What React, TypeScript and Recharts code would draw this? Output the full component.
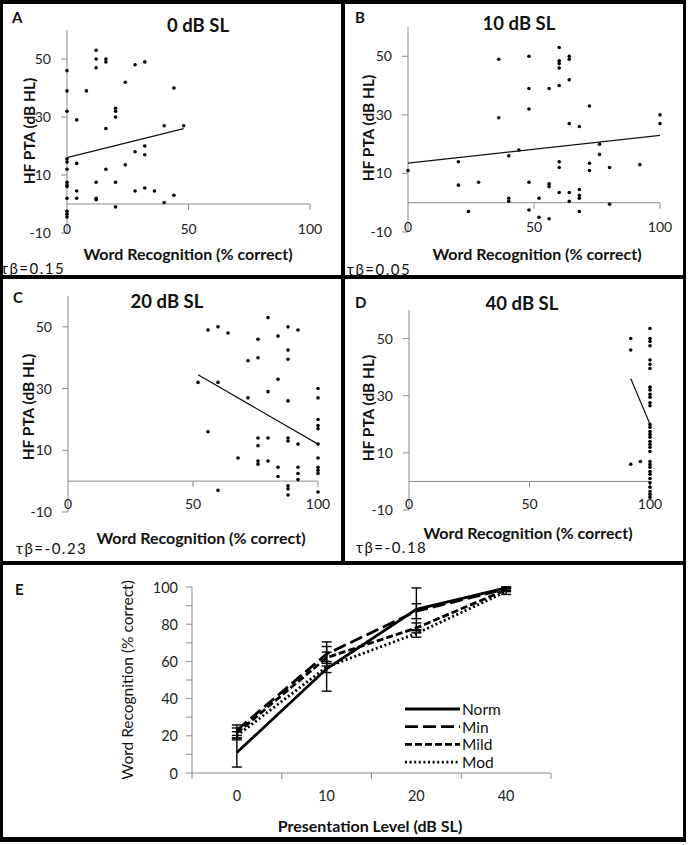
import { ScatterChart, Scatter, XAxis, YAxis, ReferenceLine, LineChart, Line, ErrorBar, Legend } from "recharts"

const FONT = "Lato, 'Open Sans', sans-serif"
const AXIS_GRAY = "#8a8a8a"

// scatter panels: [word recognition (% correct), HF PTA (dB HL)]
const pointsA: [number, number][] = [
  [12, 53], [12, 50], [12, 47], [16, 50], [16, 49], [28, 48], [32, 49], [0, 46], [0, 39], [8, 39],
  [24, 42], [44, 40], [20, 33], [20, 32], [20, 30], [0, 32], [4, 29], [16, 26], [40, 27], [48, 27],
  [32, 20], [32, 17], [28, 18], [0, 15.5], [0, 14.5], [4, 14], [24, 13.5], [0, 12], [16, 12], [0, 7.5],
  [0, 6.5], [0, 6], [12, 7.5], [20, 7.5], [4, 4.5], [4, 2], [0, 2], [28, 4.5], [32, 5.5], [36, 4.5],
  [44, 3], [12, 2], [12, 1.5], [40, 0.5], [20, -1], [0, -2.5], [0, -3.5], [0, -4.5],
]
const pointsB: [number, number][] = [
  [0, 11], [20, 14], [20, 6], [28, 7], [24, -3], [36, 49], [36, 29], [40, 16], [44, 18], [40, 1.5],
  [40, 0.5], [48, 50], [48, 39], [48, 32], [48, 7], [48, -2.5], [52, 1.5], [52, -5], [56, 39], [56, 6.5],
  [56, 5.5], [56, -5.5], [60, 53], [60, 48.5], [60, 47.5], [60, 46], [60, 40], [60, 14], [60, 12], [60, 3.5],
  [64, 50], [64, 49], [64, 42], [64, 27], [64, 3.5], [64, 0.5], [68, 26], [68, 4.5], [68, 2.5], [68, 1.5],
  [68, -3], [72, 33], [72, 13.5], [72, 11], [76, 20], [76, 16.5], [80, 12], [80, -0.5], [92, 13], [100, 30],
  [100, 27],
]
const pointsC: [number, number][] = [
  [52, 32], [56, 49], [56, 16], [60, 50], [60, 32], [60, -3], [64, 48], [68, 7.5], [72, 39], [72, 27],
  [76, 46], [76, 40], [76, 14], [76, 11.5], [76, 6.5], [76, 5.5], [80, 53], [80, 29], [80, 14], [80, 6.5],
  [84, 47], [84, 33], [84, 4.5], [84, 1.5], [88, 50], [88, 42.5], [88, 39.5], [88, 26], [88, 14], [88, 13],
  [88, -1.5], [88, -2.5], [88, -4.5], [92, 49], [92, 12], [92, 4.5], [92, 2.5], [92, 0.5], [100, 30], [100, 27],
  [100, 20], [100, 18], [100, 17], [100, 12], [100, 7.5], [100, 4.5], [100, 3.5], [100, 2.5], [100, -3.5],
]
const pointsD: [number, number][] = [
  [92, 50], [92, 46], [92, 6], [96, 7], [100, 53.5], [100, 50], [100, 49], [100, 47.5], [100, 42.5], [100, 41],
  [100, 39.5], [100, 33], [100, 32], [100, 30.5], [100, 29.5], [100, 27.5], [100, 26.5], [100, 20], [100, 19], [100, 17.5],
  [100, 16.5], [100, 15.5], [100, 14], [100, 13], [100, 12], [100, 10.5], [100, 7], [100, 6], [100, 5], [100, 3.5],
  [100, 2.5], [100, 1], [100, -0.5], [100, -2], [100, -3.5], [100, -4.5], [100, -5.5],
]

// linear trend lines (end points)
const trendA: [number, number][] = [[0, 16], [48, 26]]
const trendB: [number, number][] = [[0, 13.5], [100, 23]]
const trendC: [number, number][] = [[52, 34.5], [100, 12]]
const trendD: [number, number][] = [[92, 36], [100, 20]]

const wrTicks = [0, 50, 100]
const ptaTicks = [-10, 10, 30, 50]

// panel E: mean word recognition by presentation level
const levels = ["0", "10", "20", "40"]
const norm = [11, 56, 88, 99.5]
const normSd = [7.8, 12, 11.5, 0.5]
const min = [23, 64, 87, 99]
const minSd = [2.8, 6.5, 4, 1]
const mild = [21.5, 62, 78, 98.5]
const mildSd = [2.7, 3, 2.7, 1]
const mod = [20, 57, 75, 97.5]
const modSd = [2.2, 3, 2, 1.5]
const pctTicks = [0, 10, 20, 30, 40, 50, 60, 70, 80, 90, 100]

const series = [
  { key: "norm", name: "Norm", dash: undefined as string | undefined },
  { key: "min", name: "Min", dash: "13 5" },
  { key: "mild", name: "Mild", dash: "7 3" },
  { key: "mod", name: "Mod", dash: "2 2.6" },
]

const levelData = levels.map((level, i) => ({
  level,
  norm: norm[i], normSd: normSd[i],
  min: min[i], minSd: minSd[i],
  mild: mild[i], mildSd: mildSd[i],
  mod: mod[i], modSd: modSd[i],
}))

const toXY = (pts: [number, number][]) => pts.map(([x, y]) => ({ x, y }))

type Box = { l: number; t: number; r: number; b: number }

// space handed to the axes themselves; the rest of the gap is chart margin
const Y_AXIS_W = 50
const X_AXIS_H = 20

const panels = [
  {
    letter: "A", title: "0 dB SL", tau: "τβ=0.15", points: pointsA, trend: trendA,
    box: { l: 3, t: 4, r: 341, b: 275 }, plot: { l: 67, t: 30, r: 310, b: 233 }, labelY: 228,
    letterPos: [12, 23], titlePos: [198, 32], yTitle: [29, 131], xTitle: [188, 260], tauPos: [1, 274],
  },
  {
    letter: "B", title: "10 dB SL", tau: "τβ=0.05", points: pointsB, trend: trendB,
    box: { l: 345, t: 4, r: 683, b: 275 }, plot: { l: 408, t: 27, r: 660, b: 232 }, labelY: 226,
    letterPos: [355, 23], titlePos: [519, 30], yTitle: [368, 128], xTitle: [537, 260], tauPos: [347, 275],
  },
  {
    letter: "C", title: "20 dB SL", tau: "τβ=-0.23", points: pointsC, trend: trendC,
    box: { l: 3, t: 279, r: 341, b: 561 }, plot: { l: 68, t: 296, r: 318, b: 512 }, labelY: 503,
    letterPos: [13, 303], titlePos: [167, 308], yTitle: [28, 407], xTitle: [201, 544], tauPos: [16, 554],
  },
  {
    letter: "D", title: "40 dB SL", tau: "τβ=-0.18", points: pointsD, trend: trendD,
    box: { l: 345, t: 279, r: 683, b: 561 }, plot: { l: 409, t: 310, r: 650, b: 510 }, labelY: 503,
    letterPos: [355, 308], titlePos: [522, 310], yTitle: [368, 408], xTitle: [528, 539], tauPos: [356, 553],
  },
]

const boxE: Box = { l: 3, t: 565, r: 683, b: 837 }
const plotE: Box = { l: 192, t: 587, r: 551, b: 773 }
const halfBand = (plotE.r - plotE.l) / (levels.length * 2)

const margins = (box: Box, plot: Box) => ({
  top: plot.t - box.t,
  left: plot.l - box.l - Y_AXIS_W,
  right: box.r - plot.r,
  bottom: box.b - plot.b - X_AXIS_H,
})

const Dot = (props: any) => <circle cx={props.cx} cy={props.cy} r={1.8} fill="#000" />
const NoDot = () => <g />

function WrTick({ x, payload, labelY }: any) {
  return (
    <text x={x} y={labelY} textAnchor="middle" dominantBaseline="central" fontSize={14} fill="#222" fontFamily={FONT}>
      {payload.value}
    </text>
  )
}

// the category axis sits at PTA = 0, with tick marks hanging down
function ZeroAxis(props: any) {
  const { x1, x2, y1 } = props
  return (
    <g>
      <line x1={x1} x2={x2} y1={y1} y2={y1} stroke={AXIS_GRAY} strokeWidth={1} />
      {wrTicks.filter((t) => t > 0).map((t) => {
        const tx = x1 + (t / 100) * (x2 - x1)
        return <line key={t} x1={tx} x2={tx} y1={y1} y2={y1 + 6} stroke={AXIS_GRAY} strokeWidth={1} />
      })}
    </g>
  )
}

function ScatterPanel({ p }: { p: (typeof panels)[number] }) {
  const w = p.box.r - p.box.l
  const h = p.box.b - p.box.t
  return (
    <div style={{ position: "absolute", left: p.box.l, top: p.box.t, width: w, height: h }}>
      <ScatterChart width={w} height={h} margin={margins(p.box, p.plot)}>
        <XAxis
          type="number" dataKey="x" domain={[0, 100]} ticks={wrTicks} height={X_AXIS_H}
          axisLine={false} tickLine={false} tickSize={0} tickMargin={0} interval={0}
          tick={<WrTick labelY={p.labelY - p.box.t} />}
        />
        <YAxis
          type="number" dataKey="y" domain={[-10, 60]} ticks={ptaTicks} width={Y_AXIS_W} interval={0}
          axisLine={{ stroke: AXIS_GRAY }} tickLine={{ stroke: AXIS_GRAY }} tickSize={6} tickMargin={10}
          tick={{ fontSize: 14, fill: "#222", fontFamily: FONT }}
        />
        <ReferenceLine y={0} shape={ZeroAxis} />
        <Scatter data={toXY(p.points)} shape={Dot} isAnimationActive={false} />
        <Scatter
          data={toXY(p.trend)} shape={NoDot} line={{ stroke: "#111", strokeWidth: 1.2 }}
          isAnimationActive={false}
        />
      </ScatterChart>
    </div>
  )
}

function PctTick({ x, y, payload }: any) {
  if (payload.value % 20 !== 0) return <g />
  return (
    <text x={x} y={y} textAnchor="end" dominantBaseline="central" fontSize={14.5} fill="#222" fontFamily={FONT}>
      {payload.value}
    </text>
  )
}

function LevelTick({ x, y, payload, index }: any) {
  const last = index === levels.length - 1
  return (
    <g>
      <line x1={x - halfBand} x2={x - halfBand} y1={y} y2={y + 6} stroke={AXIS_GRAY} />
      {last && <line x1={x + halfBand} x2={x + halfBand} y1={y} y2={y + 6} stroke={AXIS_GRAY} />}
      <text x={x} y={y + 22} textAnchor="middle" dominantBaseline="central" fontSize={14.5} fill="#222" fontFamily={FONT}>
        {payload.value}
      </text>
    </g>
  )
}

function LegendBox() {
  return (
    <svg width={110} height={74}>
      {series.map((s, i) => {
        const cy = 9 + i * 17.7
        return (
          <g key={s.key}>
            <line x1={5} x2={60} y1={cy} y2={cy} stroke="#000" strokeWidth={2.8} strokeDasharray={s.dash} />
            <text x={62} y={cy} dominantBaseline="central" fontSize={15.5} fill="#111" fontFamily={FONT}>
              {s.name}
            </text>
          </g>
        )
      })}
    </svg>
  )
}

function LevelPanel() {
  const w = boxE.r - boxE.l
  const h = boxE.b - boxE.t
  return (
    <div style={{ position: "absolute", left: boxE.l, top: boxE.t, width: w, height: h }}>
      <LineChart width={w} height={h} data={levelData} margin={margins(boxE, plotE)}>
        <XAxis
          dataKey="level" height={X_AXIS_H} padding={{ left: halfBand, right: halfBand }}
          axisLine={{ stroke: AXIS_GRAY }} tickLine={false} tickSize={0} tickMargin={0}
          tick={<LevelTick />} interval={0}
        />
        <YAxis
          type="number" domain={[0, 100]} ticks={pctTicks} width={Y_AXIS_W} interval={0}
          axisLine={{ stroke: AXIS_GRAY }} tickLine={{ stroke: AXIS_GRAY }} tickSize={6} tickMargin={8}
          tick={<PctTick />}
        />
        <Legend
          content={LegendBox} layout="horizontal" verticalAlign="middle"
          wrapperStyle={{ left: 397, top: 135, width: 110 }}
        />
        {series.map((s) => (
          <Line
            key={s.key} type="linear" dataKey={s.key} name={s.name} stroke="#000" strokeWidth={2.8}
            strokeDasharray={s.dash} dot={false} activeDot={false} isAnimationActive={false}
          >
            <ErrorBar dataKey={s.key + "Sd"} width={5} stroke="#000" strokeWidth={1.4} direction="y" isAnimationActive={false} />
          </Line>
        ))}
      </LineChart>
    </div>
  )
}

const txt = { fontFamily: FONT, fill: "#111" }

export default function App() {
  return (
    <div style={{ position: "absolute", left: 0, top: 0, width: 689, height: 845, background: "#fff" }}>
      {panels.map((p) => <ScatterPanel key={p.letter} p={p} />)}
      <LevelPanel />
      <svg width={689} height={845} style={{ position: "absolute", left: 0, top: 0, pointerEvents: "none" }}>
        {panels.map((p) => (
          <g key={p.letter}>
            <text x={p.letterPos[0]} y={p.letterPos[1]} fontSize={15} fontWeight="bold" {...txt}>{p.letter}</text>
            <text x={p.titlePos[0]} y={p.titlePos[1]} fontSize={18.5} fontWeight="bold" textAnchor="middle" {...txt}>{p.title}</text>
            <text
              x={p.yTitle[0]} y={p.yTitle[1]} fontSize={15.5} fontWeight="bold" textAnchor="middle" dominantBaseline="central"
              transform={`rotate(-90 ${p.yTitle[0]} ${p.yTitle[1]})`} {...txt}
            >
              HF PTA (dB HL)
            </text>
            <text x={p.xTitle[0]} y={p.xTitle[1]} fontSize={16} fontWeight="bold" textAnchor="middle" {...txt}>
              Word Recognition (% correct)
            </text>
            <text x={p.tauPos[0]} y={p.tauPos[1]} fontSize={15} letterSpacing={1.5} {...txt}>{p.tau}</text>
          </g>
        ))}
        <text x={15} y={595} fontSize={15} fontWeight="bold" {...txt}>E</text>
        <text
          x={127} y={680} fontSize={15.5} textAnchor="middle" dominantBaseline="central"
          transform="rotate(-90 127 680)" {...txt}
        >
          Word Recognition (% correct)
        </text>
        <text x={370} y={832} fontSize={16} fontWeight="bold" textAnchor="middle" {...txt}>
          Presentation Level (dB SL)
        </text>
        {/* panel frames */}
        <rect x={0} y={0} width={686} height={4} fill="#000" />
        <rect x={0} y={0} width={3} height={842} fill="#000" />
        <rect x={683} y={0} width={3} height={842} fill="#000" />
        <rect x={0} y={837} width={686} height={5} fill="#000" />
        <rect x={341} y={0} width={4} height={565} fill="#000" />
        <rect x={0} y={275} width={686} height={4} fill="#000" />
        <rect x={0} y={561} width={686} height={4} fill="#000" />
      </svg>
    </div>
  )
}
